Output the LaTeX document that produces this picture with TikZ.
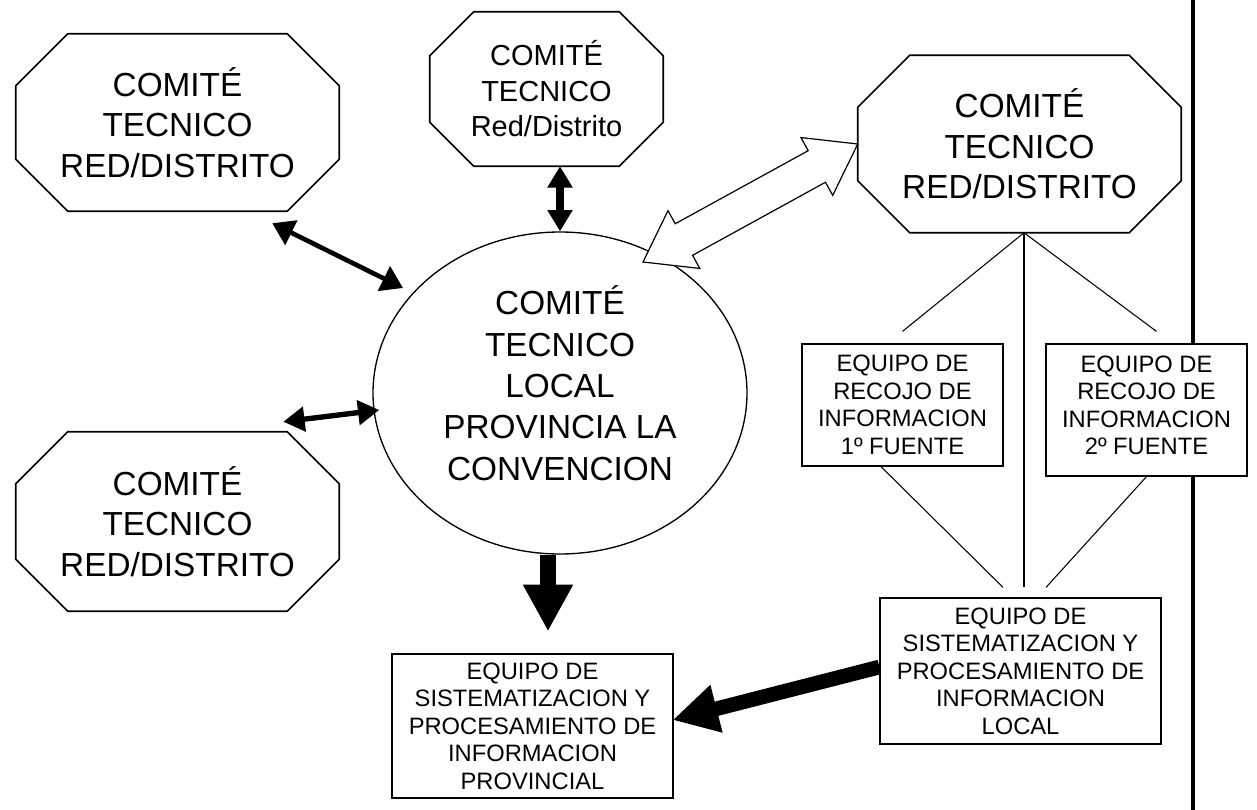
\documentclass[tikz,border=0pt]{standalone}
\usepackage{fontspec}
\setmainfont{Liberation Sans}
\usetikzlibrary{positioning, calc, shapes.geometric, arrows.meta}

\begin{document}
\begin{tikzpicture}[x=0.75pt, y=-0.75pt,
		comite/.style={align=center, inner sep=0pt, font=\fontsize{25}{30.5}\selectfont,
			minimum width=242.25pt, minimum height=132.75pt},
		equipo/.style={draw, line width=0.9pt, fill=white, align=center, inner sep=0pt,
			font=\fontsize{17.8}{20.6}\selectfont},
		enlace/.style={line width=0.8pt},
		flecha/.style={line width=3.5pt, {Triangle[length=16pt, width=20pt]}-{Triangle[length=16pt, width=20pt]}}]

		\useasboundingbox (0,0) rectangle (1257,810);

		\node[comite] (redA) at (177.5,122.5) {COMITÉ\\TECNICO\\RED/DISTRITO};
		\node[comite, minimum width=174.75pt, minimum height=115.5pt, font=\fontsize{21.75}{26.6}\selectfont] (redB) at (546.5,89) {COMITÉ\\TECNICO\\Red/Distrito};
		\node[comite] (redC) at (1019.5,144) {COMITÉ\\TECNICO\\RED/DISTRITO};
		\node[comite, minimum height=134.25pt] (redD) at (177.5,521.5) {COMITÉ\\TECNICO\\RED/DISTRITO};
		\foreach \n/\c in {redA/39pt, redB/33pt, redC/39pt, redD/39pt}
			\draw[line width=1.2pt] ([xshift=\c]\n.north west) -- ([xshift=-\c]\n.north east) -- ([yshift=-\c]\n.north east)
				-- ([yshift=\c]\n.south east) -- ([xshift=-\c]\n.south east) -- ([xshift=\c]\n.south west)
				-- ([yshift=\c]\n.south west) -- ([yshift=-\c]\n.north west) -- cycle;

		\node[ellipse, draw, line width=1pt, minimum width=280.5pt, minimum height=241.5pt, inner sep=0pt, align=center,
			text depth=15pt, font=\fontsize{25}{31}\selectfont] (local) at (560,393) {COMITÉ\\TECNICO\\LOCAL\\PROVINCIA LA\\CONVENCION};

		\coordinate (margenArr) at (1193,0);
		\coordinate (margenAb) at (1193,810);
		\node[equipo, minimum width=150.75pt, minimum height=91.5pt] (fuente1) at (902.5,405) {EQUIPO DE\\RECOJO DE\\INFORMACION\\1º FUENTE};
		\node[equipo, minimum width=150.75pt, minimum height=99pt, text depth=7.5pt] (fuente2) at (1146.5,410) {EQUIPO DE\\RECOJO DE\\INFORMACION\\2º FUENTE};
		\node[equipo, minimum width=210.75pt, minimum height=109.5pt] (eqLocal) at (1020.5,671) {EQUIPO DE\\SISTEMATIZACION Y\\PROCESAMIENTO DE\\INFORMACION\\LOCAL};
		\node[equipo, minimum width=210.75pt, minimum height=108pt] (eqProv) at (532.5,726) {EQUIPO DE\\SISTEMATIZACION Y\\PROCESAMIENTO DE\\INFORMACION\\PROVINCIAL};
		\draw[line width=2.5pt] (margenArr) -- (margenArr |- fuente2.north);
		\draw[line width=2.5pt] (margenAb |- fuente2.south) -- (margenAb);

		\coordinate (vertice) at ($(redC.south)+(4.5,0)$);
		\draw[enlace] (vertice) -- ($(fuente1.north)+(0,-12)$);
		\draw[enlace] (vertice) -- ($(eqLocal.north)+(3.5,-10)$);
		\draw[enlace] (vertice) -- ($(fuente2.north)+(10,-12)$);
		\draw[enlace] ($(fuente1.south)+(-21.5,0)$) -- ($(eqLocal.north)+(-17.5,-10)$);
		\draw[enlace] (fuente2.south) -- ($(eqLocal.north)+(25.5,-10)$);

		\draw[flecha] ($(redA.south east)+(-67,12)$) -- ($(local.center)+(-157,-105)$);
		\draw[flecha, line width=6.5pt, {Triangle[length=16pt, width=18pt]}-{Triangle[length=16pt, width=18pt]}] (redB.south -| local.north) -- (local.north);
		\draw[flecha, line width=4pt, {Triangle[length=16pt, width=18pt]}-{Triangle[length=16pt, width=18pt]}] ($(redD.north east)+(-56,-10)$) -- ($(local.west)+(7,17)$);
		\draw[line width=12pt, -{Triangle[length=35pt, width=35pt]}] ($(local.south)+(-12,0)$) -- ($(eqProv.north)+(15.5,-22)$);
		\draw[line width=11pt, -{Triangle[length=34pt, width=34.5pt]}] ($(eqLocal.west)+(0,-4)$) -- ($(eqProv.east)+(-1,-6)$);

		\coordinate (hA) at ($(local.center)+(83,-131)$);
		\coordinate (hB) at (redC.west);
		\coordinate (bA) at ($(hA)!35pt!(hB)$);
		\coordinate (bB) at ($(hB)!35pt!(hA)$);
		\draw[line width=0.9pt, fill=white] (hA) -- ($(bA)!24.75pt!90:(hB)$) -- ($(bA)!13.5pt!90:(hB)$)
			-- ($(bB)!13.5pt!-90:(hA)$) -- ($(bB)!24.75pt!-90:(hA)$) -- (hB)
			-- ($(bB)!24.75pt!90:(hA)$) -- ($(bB)!13.5pt!90:(hA)$)
			-- ($(bA)!13.5pt!-90:(hB)$) -- ($(bA)!24.75pt!-90:(hB)$) -- cycle;
	\end{tikzpicture}
\end{document}
